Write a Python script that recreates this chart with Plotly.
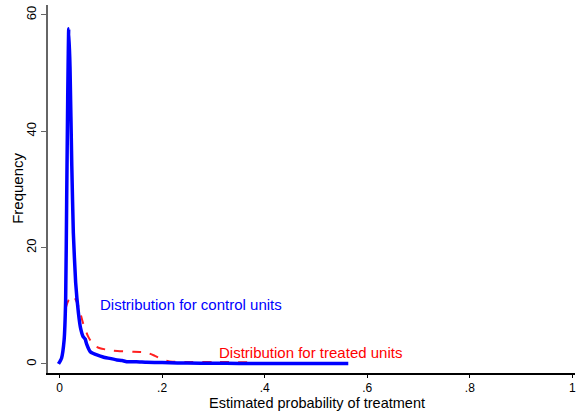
import plotly.graph_objects as go

# Control units distribution (blue, solid)
control_x = [-0.002, 0.004, 0.009, 0.012, 0.014, 0.016, 0.018, 0.0205, 0.024, 0.027,
             0.0315, 0.037, 0.041, 0.046, 0.050, 0.053, 0.060, 0.066, 0.073, 0.085,
             0.095, 0.112, 0.122, 0.131, 0.15, 0.17, 0.2, 0.23, 0.25, 0.3, 0.35,
             0.4, 0.45, 0.5, 0.563]
control_y = [0.0, 1.0, 4.1, 11.0, 28.0, 45.5, 57.6, 51.0, 34.0, 22.5,
             14.0, 8.7, 6.2, 4.7, 4.3, 3.4, 2.1, 1.8, 1.55, 1.2,
             1.0, 0.7, 0.6, 0.4, 0.4, 0.3, 0.25, 0.15, 0.15, 0.12, 0.1,
             0.1, 0.08, 0.08, 0.07]

# Treated units distribution (red, dashed)
treated_x = [0.012, 0.018, 0.027, 0.037, 0.046, 0.056, 0.066, 0.079, 0.105, 0.144,
             0.170, 0.186, 0.203, 0.22, 0.26, 0.3, 0.37]
treated_y = [9.6, 11.0, 11.7, 9.9, 7.0, 4.7, 3.3, 2.7, 2.3, 2.1,
             1.95, 1.4, 0.7, 0.4, 0.35, 0.35, 0.3]

x_ticks = [0, 0.2, 0.4, 0.6, 0.8, 1]
x_ticktext = ["0", ".2", ".4", ".6", ".8", "1"]
y_ticks = [0, 20, 40, 60]

x_title = "Estimated probability of treatment"
y_title = "Frequency"

FONT = "Liberation Sans, Arial, sans-serif"

fig = go.Figure()
fig.add_trace(go.Scatter(x=treated_x, y=treated_y, mode="lines",
                         line=dict(color="#ff2020", width=2, dash="dash", shape="spline", smoothing=0.6),
                         showlegend=False))
fig.add_trace(go.Scatter(x=control_x, y=control_y, mode="lines",
                         line=dict(color="#0000ff", width=3.5, shape="spline", smoothing=0.4),
                         showlegend=False))

fig.add_annotation(x=0.075, y=10.2, text="Distribution for control units", showarrow=False,
                   xanchor="left", yanchor="middle", font=dict(color="#0000ff", size=15, family=FONT))
fig.add_annotation(x=0.307, y=1.9, text="Distribution for treated units", showarrow=False,
                   xanchor="left", yanchor="middle", font=dict(color="#ff0000", size=15, family=FONT))

# Axis titles as paper-positioned annotations
fig.add_annotation(xref="paper", yref="paper", x=0.511, y=-0.0815, text=x_title, showarrow=False,
                   xanchor="center", yanchor="middle", borderpad=0,
                   font=dict(size=14.5, family=FONT, color="black"))
fig.add_annotation(xref="paper", yref="paper", x=-0.057, y=0.503, text=y_title, showarrow=False,
                   textangle=-90, xanchor="center", yanchor="middle",
                   font=dict(size=15, family=FONT, color="black"))

fig.update_layout(
    width=576, height=412,
    margin=dict(l=48, r=1, t=5, b=39),
    paper_bgcolor="white", plot_bgcolor="white",
    font=dict(family=FONT, size=13, color="black"),
    xaxis=dict(range=[-0.0224, 1.005], tickvals=x_ticks, ticktext=x_ticktext,
               ticklabeloverflow="allow",
               showgrid=False, zeroline=False, showline=True, linecolor="black", linewidth=1.5,
               ticks="outside", ticklen=3, tickcolor="black", tickfont=dict(size=12)),
    yaxis=dict(range=[-1.55, 61.7], tickvals=y_ticks, tickangle=-90,
               showgrid=False, zeroline=False, showline=True, linecolor="#666", linewidth=1.5,
               ticks="outside", ticklen=5, tickcolor="#666", tickfont=dict(size=13)),
)

fig.write_html("out.html")
